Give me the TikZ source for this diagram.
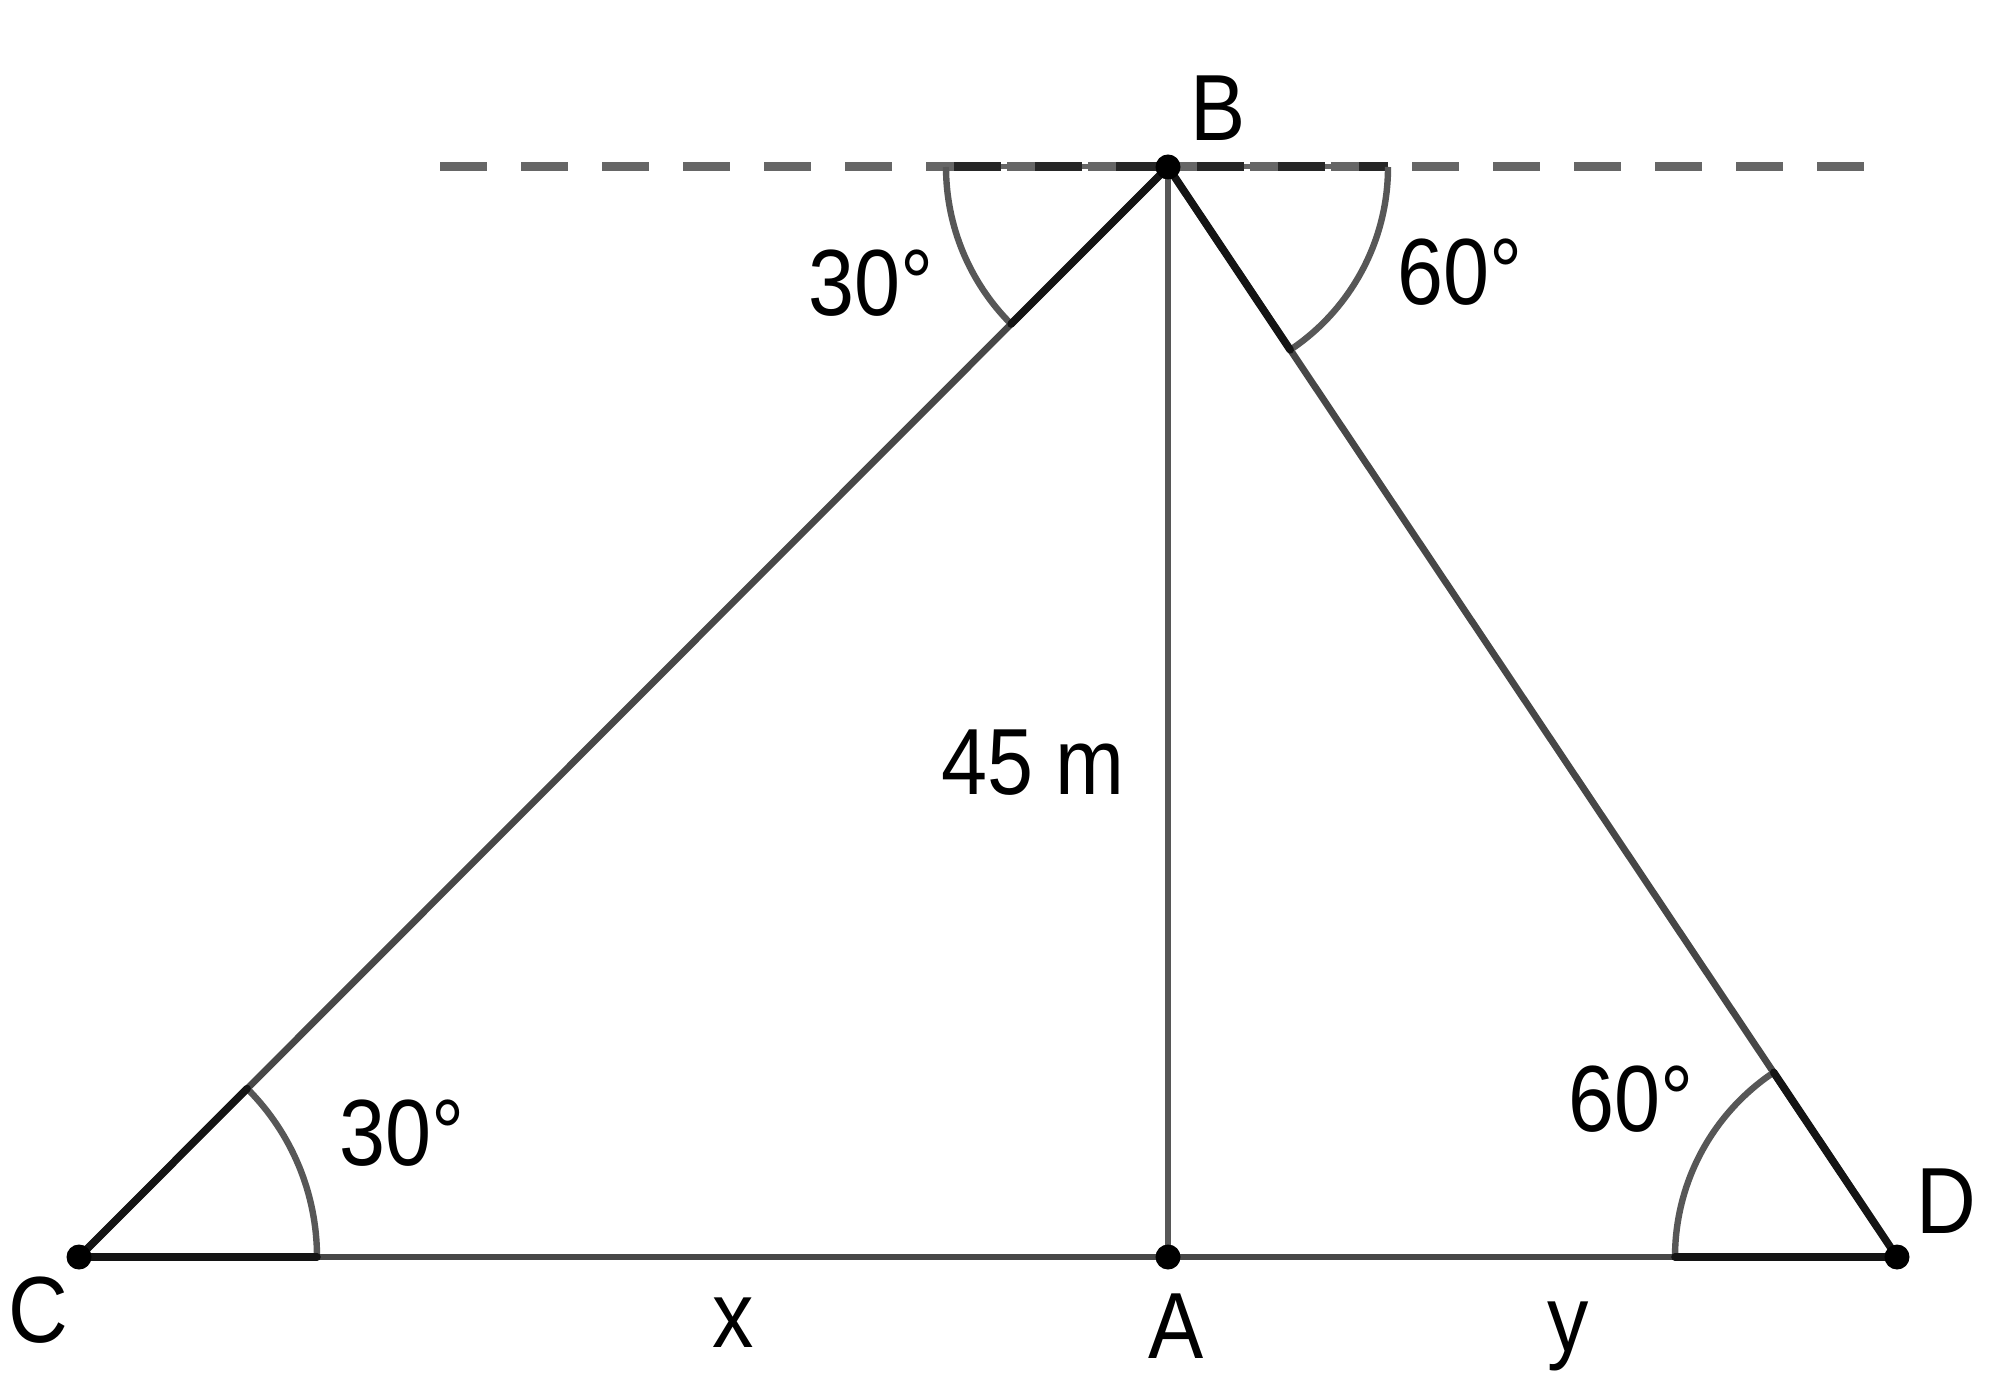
\documentclass[tikz,border=0pt]{standalone}
\usepackage{fontspec}
\setmainfont[FakeStretch=0.88]{Liberation Sans}
\begin{document}
\begin{tikzpicture}[x=0.5pt,y=0.5pt,
  side/.style={draw=black!72,line width=3.4pt},
  radiusline/.style={draw=black!92,line width=3.8pt,line cap=round},
  anglearc/.style={draw=black!66,line width=3.2pt},
  horizon/.style={draw=black!60,line width=4.5pt,dash pattern=on 23.5pt off 17pt},
  ptdot/.style={fill=black},
  lbl/.style={inner sep=0pt,font=\fontsize{47}{54}\selectfont}]
\useasboundingbox (0,0) rectangle (2000,1393);
\fill[white] (0,0) rectangle (2000,1393);
% points
\coordinate (C) at (79,136);
\coordinate (A) at (1168,136);
\coordinate (D) at (1897,136);
\coordinate (B) at (1168,1226);
\coordinate (HL) at (440,1226);
\coordinate (HR) at (1870,1226);
% horizontal dashed line
\draw[horizon] (HL) -- (HR);
\draw[draw=black!60,line width=2.5pt] ([xshift=-222*0.5pt]B) -- ([xshift=220*0.5pt]B);
\draw[draw=black!85,line width=4.5pt,dash pattern=on 23.5pt off 17pt,dash phase=-4pt] ([xshift=-222*0.5pt]B) -- ([xshift=220*0.5pt]B);
% sides
\draw[side] (C) -- (A) -- (D);
\draw[side] (C) -- (B) -- (D);
\draw[side,draw=black!66] (B) -- (A);
% angle at C
\draw[anglearc] ([shift={(0:238)}]C) arc[start angle=0,end angle=45.04,radius=238];
\draw[radiusline] (C) -- ([shift={(0:238)}]C);
\draw[radiusline] (C) -- ([shift={(45.04:238)}]C);
% angle at D
\draw[anglearc] ([shift={(180:222)}]D) arc[start angle=180,end angle=123.75,radius=222];
\draw[radiusline] (D) -- ([shift={(180:222)}]D);
\draw[radiusline] (D) -- ([shift={(123.75:222)}]D);
% angles at B
\draw[anglearc] ([shift={(180:222)}]B) arc[start angle=180,end angle=225,radius=222];
\draw[anglearc] ([shift={(0:220)}]B) arc[start angle=0,end angle=-56.25,radius=220];
\draw[radiusline] (B) -- ([shift={(225:222)}]B);
\draw[radiusline] (B) -- ([shift={(-56.25:220)}]B);
% dots
\fill[ptdot] (C) circle[radius=12.5];
\fill[ptdot] (A) circle[radius=12.5];
\fill[ptdot] (D) circle[radius=12.5];
\fill[ptdot] (B) circle[radius=12.5];
% labels
\node[lbl] (lB) at (1218,1285) {B};
\node[lbl] (lC) at (38,83) {C};
\node[lbl] (lD) at (1946,192) {D};
\node[lbl] (lA) at (1176,67) {A};
\node[lbl] (lx) at (733,70) {x};
\node[lbl] (ly) at (1568,57) {y};
\node[lbl] (lh) at (1033,630) {45 m};
\node[lbl] (aBl) at (871,1110) {30°};
\node[lbl] (aBr) at (1460,1121) {60°};
\node[lbl] (aC) at (402,260) {30°};
\node[lbl] (aD) at (1631,294) {60°};
\end{tikzpicture}
\end{document}
